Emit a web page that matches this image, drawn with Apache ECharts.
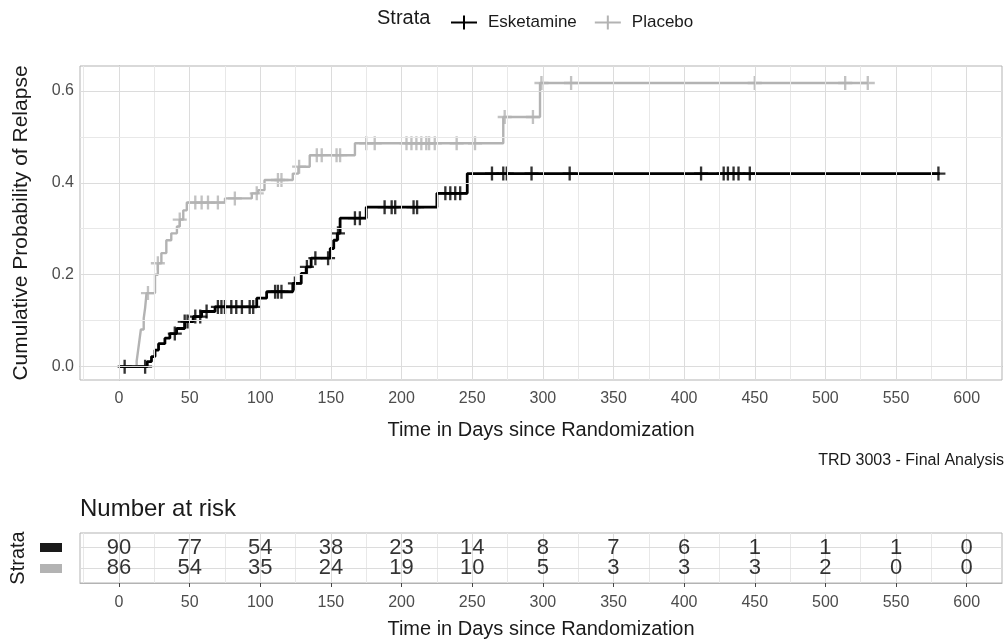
<!DOCTYPE html>
<html><head><meta charset="utf-8">
<script src="https://cdn.jsdelivr.net/npm/echarts@6/dist/echarts.min.js"></script>
<style>html,body{margin:0;padding:0;background:#fff}#c{width:1008px;height:640px}</style>
</head><body><div id="c"></div>
<script>
// ---- data ----
const xTicks = [0, 50, 100, 150, 200, 250, 300, 350, 400, 450, 500, 550, 600];
const xGridLines = [-25, 0, 25, 50, 75, 100, 125, 150, 175, 200, 225, 250, 275, 300, 325, 350, 375, 400, 425, 450, 475, 500, 525, 550, 575, 600];
const yTicks = [0, 0.2, 0.4, 0.6];
const yGridLines = [0, 0.1, 0.2, 0.3, 0.4, 0.5, 0.6];

const seriesNames = ['Esketamine', 'Placebo'];

const eskTime = [0, 20, 23, 25.5, 28, 32.5, 36, 40.8, 46.5, 52.5, 58.5, 68, 97.5, 104.5, 123, 129, 132.5, 136, 149.5, 152, 154.5, 156.5, 175, 225, 246.5, 581];
const eskProb = [0, 0.011, 0.022, 0.036, 0.05, 0.062, 0.072, 0.083, 0.098, 0.109, 0.12, 0.13, 0.149, 0.163, 0.181, 0.203, 0.217, 0.236, 0.257, 0.275, 0.29, 0.323, 0.347, 0.377, 0.42, 0.42];
const eskCensor = [4, 18.5, 39.5, 46.5, 48.5, 54, 57.5, 62, 70, 72.5, 75, 79.5, 83, 87, 92.5, 95, 110.5, 112.5, 115, 124.5, 133, 139, 148, 155, 167, 170.5, 188, 193, 195.5, 208.5, 211, 231, 234.5, 238, 241.5, 264, 272, 274.5, 292, 319, 412, 428, 431, 435, 438.5, 446.5, 580];

const plaTime = [0, 12.5, 13.5, 14.5, 15.5, 17.5, 18.5, 19.5, 25.5, 27.5, 30, 33.5, 37, 41, 43, 45.5, 48, 75, 94, 98.5, 103, 123, 127, 135, 167, 272, 298, 530];
const plaProb = [0, 0.012, 0.035, 0.058, 0.081, 0.105, 0.128, 0.16, 0.2, 0.225, 0.247, 0.275, 0.29, 0.305, 0.32, 0.34, 0.357, 0.366, 0.377, 0.384, 0.406, 0.42, 0.435, 0.46, 0.486, 0.543, 0.617, 0.617];
const plaCensor = [20.5, 27.5, 43, 54, 58.5, 63, 70, 82, 97.5, 112.5, 115, 127.5, 140, 143.5, 154, 156.5, 175, 181, 203.5, 207, 210.5, 214, 217.5, 219.5, 223.5, 239, 252, 273, 293, 299, 320, 450, 514, 530];

const riskTimes = [0, 50, 100, 150, 200, 250, 300, 350, 400, 450, 500, 550, 600];
const eskRisk = [90, 77, 54, 38, 23, 14, 8, 7, 6, 1, 1, 1, 0];
const plaRisk = [86, 54, 35, 24, 19, 10, 5, 3, 3, 3, 2, 0, 0];

// ---- helpers ----
function stepAt(times, probs, t) {
  let v = probs[0];
  for (let i = 0; i < times.length; i++) if (times[i] <= t) v = probs[i];
  return v;
}
const curve = (ts, ps) => ts.map((t, i) => [t, ps[i]]);
const censorPts = (cs, ts, ps) => cs.map(t => [t, stepAt(ts, ps, t)]);

const FONT = '"Liberation Sans", Arial, sans-serif';
const BLACK = '#000000';
const GRAY = '#b3b3b3';
const plusPath = 'path://M5,0H7V5H12V7H7V12H5V7H0V5H5Z';
const legendIcon = 'path://M0,6H12V0H14V6H26V8H14V14H12V8H0Z';

const MAJ = '#dcdcdc', MIN = '#e8e8e8';
const vLines = xGridLines.map(v => ({ xAxis: v, lineStyle: { color: v % 50 === 0 ? MAJ : MIN, width: 1, type: 'solid' } }));
const hLines = yGridLines.map(v => ({ yAxis: v, lineStyle: { color: Math.round(v * 10) % 2 === 0 ? MAJ : MIN, width: 1, type: 'solid' } }));
const tableHLines = [1, 2].map(v => ({ yAxis: v, lineStyle: { color: MAJ, width: 1, type: 'solid' } }));

function gridSeries(xi, lines) {
  return {
    type: 'line', xAxisIndex: xi, yAxisIndex: xi, data: [], silent: true, z: 1,
    markLine: { silent: true, symbol: ['none', 'none'], label: { show: false }, animation: false,
      lineStyle: { type: 'solid', width: 1, color: MAJ }, emphasis: { disabled: true }, data: lines }
  };
}
const tickStyle = { show: true, length: 4, lineStyle: { color: '#444', width: 1 } };
const axisLineStyle = { show: true, lineStyle: { color: '#b3b3b3', width: 1 } };

const chart = echarts.init(document.getElementById('c'), null, { renderer: 'canvas' });
chart.setOption({
  animation: false,
  backgroundColor: '#ffffff',
  textStyle: { fontFamily: FONT },
  legend: {
    data: seriesNames,
    left: 446, top: 9,
    icon: legendIcon, itemWidth: 26, itemHeight: 14, itemGap: 18,
    textStyle: { fontSize: 17, color: '#1a1a1a', fontFamily: FONT, padding: [0, 0, 0, 6] },
    selectedMode: false
  },
  graphic: [
    { type: 'text', left: 377, top: 8, style: { text: 'Strata', fontSize: 20, fill: '#1a1a1a', fontFamily: FONT } },
    { type: 'text', right: 4, top: 453, style: { text: 'TRD 3003 - Final Analysis', fontSize: 16, fill: '#1a1a1a', fontFamily: FONT } },
    { type: 'text', left: 80, top: 497, style: { text: 'Number at risk', fontSize: 24, fill: '#1a1a1a', fontFamily: FONT } },
    { type: 'text', x: 18, y: 558, rotation: Math.PI / 2, style: { text: 'Strata', fontSize: 20, fill: '#1a1a1a', fontFamily: FONT, align: 'center', verticalAlign: 'middle' } },
    { type: 'rect', shape: { x: 40, y: 543, width: 22, height: 9 }, style: { fill: '#1a1a1a' } },
    { type: 'rect', shape: { x: 40, y: 564, width: 22, height: 9 }, style: { fill: GRAY } }
  ],
  grid: [
    { left: 80, right: 6, top: 66, height: 314, show: true, borderColor: '#b3b3b3', borderWidth: 1, backgroundColor: '#fff' },
    { left: 80, right: 6, top: 533, height: 50, show: true, borderColor: '#b3b3b3', borderWidth: 1, backgroundColor: '#fff' }
  ],
  xAxis: [
    {
      type: 'value', gridIndex: 0, min: -27.6, max: 625,
      axisLine: axisLineStyle, splitLine: { show: false },
      axisTick: Object.assign({ customValues: xTicks }, tickStyle),
      axisLabel: { customValues: xTicks, fontSize: 16, color: '#4d4d4d', margin: 11, fontFamily: FONT },
      name: 'Time in Days since Randomization', nameLocation: 'middle', nameGap: 40,
      nameTextStyle: { fontSize: 20, color: '#1a1a1a', fontFamily: FONT }
    },
    {
      type: 'value', gridIndex: 1, min: -27.6, max: 625,
      axisLine: axisLineStyle, splitLine: { show: false },
      axisTick: Object.assign({ customValues: xTicks }, tickStyle),
      axisLabel: { customValues: xTicks, fontSize: 16, color: '#4d4d4d', margin: 12, fontFamily: FONT },
      name: 'Time in Days since Randomization', nameLocation: 'middle', nameGap: 36,
      nameTextStyle: { fontSize: 20, color: '#1a1a1a', fontFamily: FONT }
    }
  ],
  yAxis: [
    {
      type: 'value', gridIndex: 0, min: -0.029, max: 0.654,
      axisLine: axisLineStyle, splitLine: { show: false },
      axisTick: Object.assign({ customValues: yTicks }, tickStyle),
      axisLabel: { customValues: yTicks, fontSize: 16, color: '#4d4d4d', margin: 6, fontFamily: FONT, formatter: v => v.toFixed(1) },
      name: 'Cumulative Probability of Relapse', nameLocation: 'middle', nameGap: 48,
      nameTextStyle: { fontSize: 21, color: '#1a1a1a', fontFamily: FONT }
    },
    {
      type: 'value', gridIndex: 1, min: 0.3, max: 2.7, inverse: true,
      axisLine: { show: false }, splitLine: { show: false }, axisTick: { show: false }, axisLabel: { show: false }
    }
  ],
  series: [
    gridSeries(0, vLines.concat(hLines)),
    gridSeries(1, vLines.concat(tableHLines)),
    {
      name: 'Placebo', type: 'line', step: 'end', xAxisIndex: 0, yAxisIndex: 0, z: 3,
      data: curve(plaTime, plaProb), showSymbol: false, symbol: 'none',
      lineStyle: { color: GRAY, width: 2.4 }, itemStyle: { color: GRAY }
    },
    {
      name: 'Placebo censor', type: 'scatter', xAxisIndex: 0, yAxisIndex: 0, z: 3,
      data: censorPts(plaCensor, plaTime, plaProb), symbol: plusPath, symbolSize: 14,
      itemStyle: { color: GRAY }, silent: true
    },
    {
      name: 'Esketamine', type: 'line', step: 'end', xAxisIndex: 0, yAxisIndex: 0, z: 4,
      data: curve(eskTime, eskProb), showSymbol: false, symbol: 'none',
      lineStyle: { color: BLACK, width: 2.8 }, itemStyle: { color: BLACK }
    },
    {
      name: 'Esketamine censor', type: 'scatter', xAxisIndex: 0, yAxisIndex: 0, z: 4,
      data: censorPts(eskCensor, eskTime, eskProb), symbol: plusPath, symbolSize: 14,
      itemStyle: { color: BLACK }, silent: true
    },
    {
      name: 'Esketamine at risk', type: 'scatter', xAxisIndex: 1, yAxisIndex: 1, z: 5,
      data: riskTimes.map((t, i) => [t, 1, eskRisk[i]]), symbolSize: 1, itemStyle: { color: 'rgba(0,0,0,0)' },
      label: { show: true, position: 'inside', formatter: p => String(p.value[2]), fontSize: 22, color: '#000', fontFamily: FONT },
      silent: true
    },
    {
      name: 'Placebo at risk', type: 'scatter', xAxisIndex: 1, yAxisIndex: 1, z: 5,
      data: riskTimes.map((t, i) => [t, 2, plaRisk[i]]), symbolSize: 1, itemStyle: { color: 'rgba(0,0,0,0)' },
      label: { show: true, position: 'inside', formatter: p => String(p.value[2]), fontSize: 22, color: '#000', fontFamily: FONT },
      silent: true
    }
  ]
});
</script>
</body></html>
